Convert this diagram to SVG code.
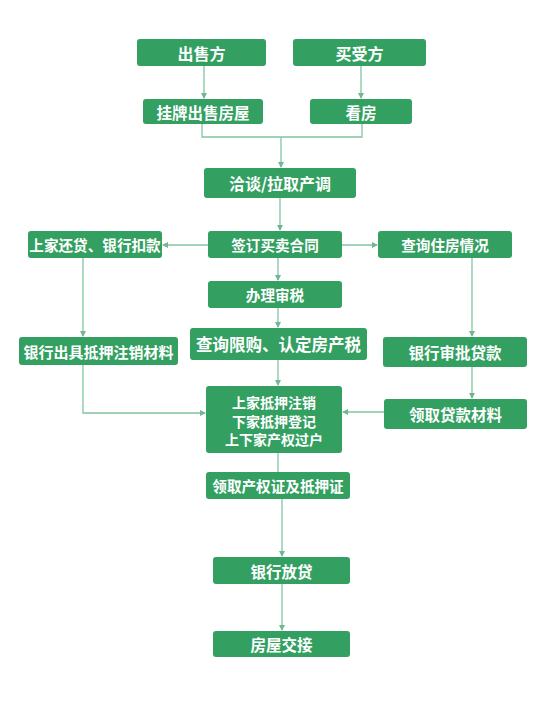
<svg xmlns="http://www.w3.org/2000/svg" width="554" height="701" viewBox="0 0 554 701">
<defs>
<marker id="arr" markerWidth="6" markerHeight="6" refX="5" refY="3" orient="auto" markerUnits="userSpaceOnUse">
<path d="M0,0 L6,3 L0,6 Z" fill="#6fb892"/>
</marker>
<style>
.box{fill:#33a061;}
.t{fill:#ffffff;font-family:"Noto Sans CJK SC","Noto Sans CJK JP",sans-serif;font-size:14.6px;font-weight:700;text-anchor:middle;dominant-baseline:central;}
.c{fill:none;stroke:#82c4a1;stroke-width:1.3;}
.ca{fill:none;stroke:#82c4a1;stroke-width:1.3;marker-end:url(#arr);}
</style>
</defs>
<rect width="554" height="701" fill="#ffffff"/>
<g id="connectors">
<path class="ca" d="M204,66 V98"/>
<path class="ca" d="M361,66 V98"/>
<path class="c" d="M202,124 V137 H362 V124"/>
<path class="ca" d="M281,137 V167"/>
<path class="ca" d="M280,197 V230"/>
<path class="ca" d="M208,245 H163"/>
<path class="ca" d="M342,245 H377"/>
<path class="ca" d="M278,258 V280"/>
<path class="ca" d="M278,308 V327"/>
<path class="ca" d="M83,258 V336"/>
<path class="ca" d="M472,258 V336"/>
<path class="ca" d="M278,360 V385"/>
<path class="ca" d="M472,367 V398"/>
<path class="ca" d="M83,365 V413 H205"/>
<path class="ca" d="M384,412 H343"/>
<path class="c" d="M278,453 V472"/>
<path class="ca" d="M282,499 V556"/>
<path class="ca" d="M282,584 V630"/>
</g>
<g id="n1"><rect class="box" x="137" y="39" width="129" height="27" rx="3"/><text class="t" x="201.5" y="52.5" style="font-size:16px">出售方</text></g>
<g id="n2"><rect class="box" x="293" y="39" width="133" height="27" rx="3"/><text class="t" x="359.5" y="52.5" style="font-size:16px">买受方</text></g>
<g id="n3"><rect class="box" x="143" y="99" width="120" height="25" rx="3"/><text class="t" x="203" y="111.5" style="font-size:15.5px">挂牌出售房屋</text></g>
<g id="n4"><rect class="box" x="310" y="99" width="102" height="25" rx="3"/><text class="t" x="361" y="111.5" style="font-size:15.5px">看房</text></g>
<g id="n5"><rect class="box" x="204" y="168" width="152" height="30" rx="3"/><text class="t" x="280" y="183" style="font-size:16px">洽谈/拉取产调</text></g>
<g id="n6"><rect class="box" x="28" y="231" width="134" height="27" rx="3"/><text class="t" x="95" y="244.5">上家还贷、银行扣款</text></g>
<g id="n7"><rect class="box" x="208" y="231" width="134" height="27" rx="3"/><text class="t" x="275" y="244.5">签订买卖合同</text></g>
<g id="n8"><rect class="box" x="378" y="231" width="134" height="27" rx="3"/><text class="t" x="445" y="244.5">查询住房情况</text></g>
<g id="n9"><rect class="box" x="208" y="281" width="134" height="27" rx="3"/><text class="t" x="275" y="294.5">办理审税</text></g>
<g id="n10"><rect class="box" x="19" y="337" width="159" height="28" rx="3"/><text class="t" x="98.5" y="351" style="font-size:15px">银行出具抵押注销材料</text></g>
<g id="n11"><rect class="box" x="190" y="328" width="177" height="32" rx="3"/><text class="t" x="278.5" y="344" style="font-size:16.5px">查询限购、认定房产税</text></g>
<g id="n12"><rect class="box" x="383" y="337" width="144" height="30" rx="3"/><text class="t" x="455" y="352" style="font-size:15.5px">银行审批贷款</text></g>
<g id="n13"><rect class="box" x="206" y="386" width="136" height="67" rx="3"/><text class="t" x="274" y="402" style="font-size:14px">上家抵押注销</text><text class="t" x="274" y="420.5" style="font-size:14px">下家抵押登记</text><text class="t" x="274" y="439" style="font-size:14px">上下家产权过户</text></g>
<g id="n14"><rect class="box" x="384" y="399" width="143" height="30" rx="3"/><text class="t" x="455.5" y="414" style="font-size:15.5px">领取贷款材料</text></g>
<g id="n15"><rect class="box" x="206" y="472" width="144" height="27" rx="3"/><text class="t" x="278" y="485.5">领取产权证及抵押证</text></g>
<g id="n16"><rect class="box" x="213" y="557" width="137" height="27" rx="3"/><text class="t" x="281.5" y="570.5" style="font-size:15.5px">银行放贷</text></g>
<g id="n17"><rect class="box" x="213" y="631" width="137" height="26" rx="3"/><text class="t" x="281.5" y="644" style="font-size:15.5px">房屋交接</text></g>
</svg>
